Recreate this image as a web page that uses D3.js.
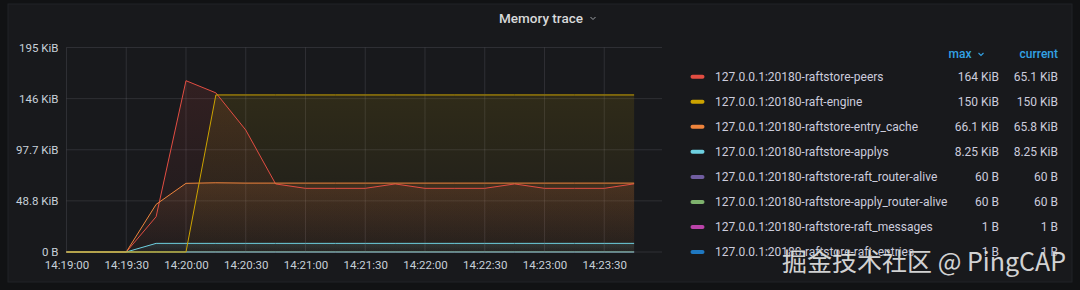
<!DOCTYPE html>
<html><head><meta charset="utf-8">
<script src="https://cdn.jsdelivr.net/npm/d3@7"></script>
<style>
html,body{margin:0;padding:0;background:#111214;}
svg{display:block;font-family:Roboto,"Noto Sans",sans-serif;}
</style>
</head><body>
<svg id="chart" width="1080" height="290"></svg>
<script>
// ---------- data (values in KiB) ----------
const times = ["14:19:00","14:19:15","14:19:30","14:19:45","14:20:00","14:20:15","14:20:30","14:20:45","14:21:00","14:21:15",
               "14:21:30","14:21:45","14:22:00","14:22:15","14:22:30","14:22:45","14:23:00","14:23:15","14:23:30","14:23:45"];
const seriesNames = [
  "127.0.0.1:20180-raftstore-peers",
  "127.0.0.1:20180-raft-engine",
  "127.0.0.1:20180-raftstore-entry_cache",
  "127.0.0.1:20180-raftstore-applys",
  "127.0.0.1:20180-raftstore-raft_router-alive",
  "127.0.0.1:20180-raftstore-apply_router-alive",
  "127.0.0.1:20180-raftstore-raft_messages",
  "127.0.0.1:20180-raftstore-raft_entries"
];
const seriesColors = ["#E24D42","#CCA300","#EF843C","#6ED0E0","#705DA0","#7EB26D","#BA43A9","#1F78C1"];
const peers      = [0,0,0,33.7,163.6,152,116.5,65,60.8,60.8,60.8,65,60.8,60.8,60.8,65,60.8,60.8,60.8,65.1];
const raftEngine = [0,0,0,0,0,150,150,150,150,150,150,150,150,150,150,150,150,150,150,150];
const entryCache = [0,0,0,45.5,65.6,66.1,65.8,65.8,65.8,65.8,65.8,65.8,65.8,65.8,65.8,65.8,65.8,65.8,65.8,65.8];
const applys     = [0,0,0,8.25,8.25,8.25,8.25,8.25,8.25,8.25,8.25,8.25,8.25,8.25,8.25,8.25,8.25,8.25,8.25,8.25];
const raftRouterAlive  = [0,0,0,0.0586,0.0586,0.0586,0.0586,0.0586,0.0586,0.0586,0.0586,0.0586,0.0586,0.0586,0.0586,0.0586,0.0586,0.0586,0.0586,0.0586];
const applyRouterAlive = [0,0,0,0.0586,0.0586,0.0586,0.0586,0.0586,0.0586,0.0586,0.0586,0.0586,0.0586,0.0586,0.0586,0.0586,0.0586,0.0586,0.0586,0.0586];
const raftMessages = [0,0,0,0.001,0.001,0.001,0.001,0.001,0.001,0.001,0.001,0.001,0.001,0.001,0.001,0.001,0.001,0.001,0.001,0.001];
const raftEntries  = [0,0,0,0.001,0.001,0.001,0.001,0.001,0.001,0.001,0.001,0.001,0.001,0.001,0.001,0.001,0.001,0.001,0.001,0.001];
const maxLabels     = ["164 KiB","150 KiB","66.1 KiB","8.25 KiB","60 B","60 B","1 B","1 B"];
const currentLabels = ["65.1 KiB","150 KiB","65.8 KiB","8.25 KiB","60 B","60 B","1 B","1 B"];
const yTickValues = [0, 48.828125, 97.65625, 146.484375, 195.3125];
const yTickLabels = ["0 B","48.8 KiB","97.7 KiB","146 KiB","195 KiB"];
const xTickLabels = ["14:19:00","14:19:30","14:20:00","14:20:30","14:21:00","14:21:30","14:22:00","14:22:30","14:23:00","14:23:30"];
const xDomainLabels = ["14:19:00","14:23:59"];
const titleText = "Memory trace";
const watermark = "掘金技术社区 @ PingCAP";

const seriesValues = [peers, raftEngine, entryCache, applys, raftRouterAlive, applyRouterAlive, raftMessages, raftEntries];

// ---------- layout ----------
const svg = d3.select("#chart");
const parse = d3.utcParse("%H:%M:%S");
const L = 66.5, R = 662, T = 47.5, B = 252;

svg.append("rect").attr("x",0).attr("y",0).attr("width",1080).attr("height",290).attr("fill","#111214");
svg.append("rect").attr("x",8).attr("y",4).attr("width",1064).attr("height",278).attr("fill","#18191c").attr("stroke","#202226");

// title
svg.append("text").attr("x",541).attr("y",18).attr("text-anchor","middle").attr("dominant-baseline","central")
  .attr("fill","#d8d9da").attr("font-size",13.5).attr("font-weight",500).text(titleText);
svg.append("path").attr("d","M590.5,17 L593,19.5 L595.5,17").attr("fill","none").attr("stroke","#9fa3a8").attr("stroke-width",1);

const x = d3.scaleUtc().domain(xDomainLabels.map(parse)).range([L, R]);
const y = d3.scaleLinear().domain([0, yTickValues[yTickValues.length-1]]).range([B, T]);

// grid
const grid = svg.append("g");
grid.selectAll("line.h").data(yTickValues).join("line")
  .attr("x1",L).attr("x2",R).attr("y1",d=>y(d)).attr("y2",d=>y(d))
  .attr("stroke","rgba(204,204,220,0.13)").attr("stroke-width",1);
grid.selectAll("line.v").data(xTickLabels).join("line")
  .attr("x1",d=>x(parse(d))).attr("x2",d=>x(parse(d))).attr("y1",T).attr("y2",B)
  .attr("stroke","rgba(204,204,220,0.13)").attr("stroke-width",1);

// axes
const yAxis = d3.axisLeft(y).tickValues(yTickValues).tickFormat((d,i)=>yTickLabels[i]).tickSize(0).tickPadding(8);
const gy = svg.append("g").attr("transform",`translate(${L},0)`).call(yAxis);
gy.select(".domain").remove();
gy.selectAll("text").attr("fill","#c7d0d9").attr("font-size",11.5).attr("font-family","Roboto,sans-serif");

const xAxis = d3.axisBottom(x).tickValues(xTickLabels.map(parse)).tickFormat(d3.utcFormat("%H:%M:%S")).tickSize(0).tickPadding(9);
const gx = svg.append("g").attr("transform",`translate(0,${B})`).call(xAxis);
gx.select(".domain").remove();
gx.selectAll("text").attr("fill","#c7d0d9").attr("font-size",11.5).attr("font-family","Roboto,sans-serif");

// gradients
const defs = svg.append("defs");
seriesColors.forEach((c,i)=>{
  const g = defs.append("linearGradient").attr("id","g"+i).attr("x1",0).attr("x2",0).attr("y1",0).attr("y2",1);
  g.append("stop").attr("offset","0%").attr("stop-color",c).attr("stop-opacity",0.13);
  g.append("stop").attr("offset","100%").attr("stop-color",c).attr("stop-opacity",0.02);
});

const tdates = times.map(parse);
const line = d3.line().x((d,i)=>x(tdates[i])).y(d=>y(d));
const area = d3.area().x((d,i)=>x(tdates[i])).y0(y(0)).y1(d=>y(d));

const drawOrder = [4,6,7,5,0,2,3,1];
const plot = svg.append("g");
drawOrder.forEach(i=>{
  plot.append("path").attr("d",area(seriesValues[i])).attr("fill",`url(#g${i})`);
});
drawOrder.forEach(i=>{
  plot.append("path").attr("d",line(seriesValues[i])).attr("fill","none")
    .attr("stroke",seriesColors[i]).attr("stroke-width",1).attr("stroke-linejoin","round");
});

// legend
const lg = svg.append("g");
lg.append("text").attr("x",971.5).attr("y",54).attr("text-anchor","end").attr("dominant-baseline","central")
  .attr("fill","#33a2e5").attr("font-size",12).attr("font-weight",500).text("max");
lg.append("path").attr("d","M978.5,53 L981,55.5 L983.5,53").attr("fill","none").attr("stroke","#33a2e5").attr("stroke-width",1.1);
lg.append("text").attr("x",1058).attr("y",54).attr("text-anchor","end").attr("dominant-baseline","central")
  .attr("fill","#33a2e5").attr("font-size",12).attr("font-weight",500).text("current");

const rowY = i => 76.7 + i*25.05;
const rows = lg.selectAll("g.row").data(seriesNames).join("g");
rows.append("rect").attr("x",690.5).attr("y",(d,i)=>rowY(i)-2).attr("width",14).attr("height",4).attr("rx",2)
  .attr("fill",(d,i)=>seriesColors[i]);
rows.append("text").attr("x",715).attr("y",(d,i)=>rowY(i)).attr("dominant-baseline","central")
  .attr("fill","#ccccdc").attr("font-size",12).text(d=>d);
rows.append("text").attr("x",999).attr("y",(d,i)=>rowY(i)).attr("dominant-baseline","central").attr("text-anchor","end")
  .attr("fill","#ccccdc").attr("font-size",12).text((d,i)=>maxLabels[i]);
rows.append("text").attr("x",1058).attr("y",(d,i)=>rowY(i)).attr("dominant-baseline","central").attr("text-anchor","end")
  .attr("fill","#ccccdc").attr("font-size",12).text((d,i)=>currentLabels[i]);

// watermark
svg.append("text").attr("x",1066).attr("y",271).attr("text-anchor","end")
  .attr("font-family","'Noto Sans CJK SC','Noto Sans',sans-serif").attr("font-size",25)
  .attr("fill","#e6e6e6").attr("fill-opacity",0.92)
  .attr("stroke","#222326").attr("stroke-width",0.6).attr("paint-order","stroke")
  .text(watermark);
</script>
</body></html>
